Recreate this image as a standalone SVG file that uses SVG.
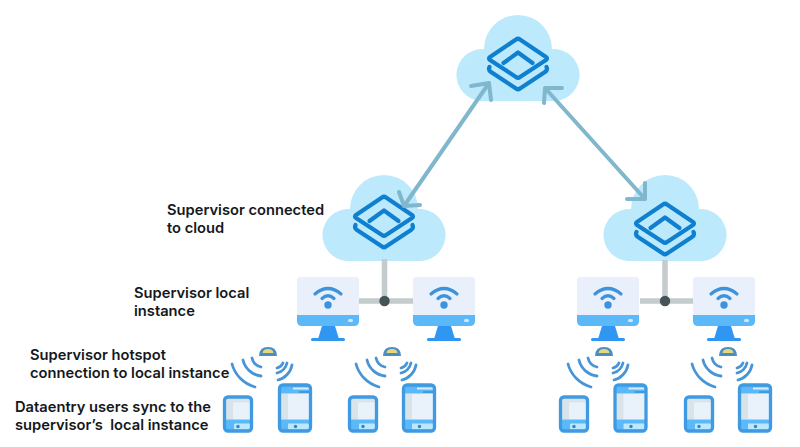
<svg xmlns="http://www.w3.org/2000/svg" width="800" height="447" viewBox="0 0 800 447">
<style>
.lb{font-family:"Inter","Liberation Sans",sans-serif;font-weight:600;font-size:14.7px;fill:#14181c;white-space:pre}
.st{fill:none;stroke:#0f80cf;stroke-width:4.200;stroke-linecap:round;stroke-linejoin:round}
.wf{fill:none;stroke:#3d93db;stroke-width:3.200;stroke-linecap:round}
.ar{fill:none;stroke:#80b7cd;stroke-width:4;stroke-linecap:round;stroke-linejoin:round}
.ln{fill:none;stroke:#c4cbcc;stroke-width:5.500}
.ho{fill:none;stroke:#4795d6;stroke-width:2.800;stroke-linecap:round}
.pb{fill:none;stroke:#3f9ae2;stroke-width:3.300}
</style>
<defs>
<path id="cloudShape" d="M-37 87A26 26 0 1 1-34 35A34 34 0 1 1 34 35A26 26 0 1 1 37 87Z" fill="#bde9fd"/>
<g id="layers">
<path class="st" d="M-2 2.500Q0 1 2 2.500L28 20Q30 21.500 28 23L2 40Q0 41.500-2 40L-28 23Q-30 21.500-28 20Z"/>
<path class="st" d="M-14.500 26L0 15.500L14.500 26"/>
<path class="st" d="M-28.500 30Q-30 33-27 35L-2 51.500Q0 53 2 51.500L27 35Q30 33 28.500 30"/>
</g>
<g id="monitor">
<path d="M-31 2Q-31-1-28-1H28Q31-1 31 2V38H-31Z" fill="#e9f0fb"/>
<path d="M-31 37H31V43Q31 48 26 48H-26Q-31 48-31 43Z" fill="#5cb9f9"/>
<path d="M-6 48H7L11 61H-10Z" fill="#2f97f2"/>
<rect x="-17" y="60" width="34" height="3" rx="1.500" fill="#2f97f2"/>
<rect x="20" y="41" width="5" height="3" rx="1.500" fill="#cfe9fb"/>
<circle cx="0" cy="27" r="3.700" fill="#3d93db"/>
<path class="wf" d="M-13 16Q0 5 13 16"/>
<path class="wf" d="M-6 20.500Q0 15 6 20.500"/>
</g>
<g id="phoneS">
<rect x="1.500" y="1.500" width="27" height="34" rx="3.500" fill="#e9f2fb"/>
<path d="M2 2H28V7H10V24H2Z" fill="#d9e3ea"/>
<path d="M1.500 24H28.500V32Q28.500 35.500 25 35.500H5Q1.500 35.500 1.500 32Z" fill="#5cb9f9"/>
<rect x="11" y="28" width="16" height="6" rx="1" fill="#bce8fd"/>
<circle cx="15" cy="31" r="1.700" fill="#2d86c9"/>
<rect class="pb" x="1.500" y="1.500" width="27" height="34" rx="3.500"/>
</g>
<g id="phoneL">
<rect x="1.500" y="1.500" width="31" height="46" rx="3.500" fill="#e9f2fb"/>
<rect x="2" y="10" width="8" height="26" fill="#d9e3ea"/>
<path d="M1.500 5Q1.500 1.500 5 1.500H29Q32.500 1.500 32.500 5V10H1.500Z" fill="#5cb9f9"/>
<path d="M15 5H31" stroke="#d5ecfb" stroke-width="2"/>
<path d="M21 8.500H32" stroke="#3f9ae2" stroke-width="2"/>
<path d="M1.500 36H32.500V44Q32.500 47.500 29 47.500H5Q1.500 47.500 1.500 44Z" fill="#5cb9f9"/>
<rect x="10" y="40" width="21" height="6" rx="1" fill="#bce8fd"/>
<circle cx="17.500" cy="43" r="1.700" fill="#2d86c9"/>
<rect class="pb" x="1.500" y="1.500" width="31" height="46" rx="3.500"/>
</g>
<g id="hotspot">
<path d="M-9 9Q-9 0 0 0Q9 0 9 9Z" fill="#4a8fc4"/>
<path d="M-5.500 6Q-5 2 0 2Q5 2 5.500 6Z" fill="#e6d77e"/>
<path class="ho" d="M-16 11A12 12 0 0 0-7 20"/>
<path class="ho" d="M-25 13A21 21 0 0 0-7 29"/>
<path class="ho" d="M-36 17A33 33 0 0 0-13 40"/>
<path class="ho" d="M15 16A9 9 0 0 1 9 21"/>
<path class="ho" d="M19 16A13.500 13.500 0 0 1 9 26"/>
<path class="ho" d="M24 18A19 19 0 0 1 10 33"/>
</g>
</defs>
<rect width="800" height="447" fill="#fff"/>
<g id="cloud-top"><use href="#cloudShape" x="518" y="14"/><use href="#layers" x="518" y="37"/></g>
<g id="cloud-left"><use href="#cloudShape" x="384" y="174"/><use href="#layers" x="384" y="195"/></g>
<g id="cloud-right"><use href="#cloudShape" x="665" y="174"/><use href="#layers" x="665" y="202"/></g>
<g id="connectors">
<path class="ar" d="M404 206L489 83M471 86L489 83L491 100M399 192L404 206L420 205"/>
<path class="ar" d="M545 88L645 199M562 88L545 88L544 103M645 183L645 199L627 199"/>
<path class="ln" d="M384.500 259V301M359 301H413"/>
<path class="ln" d="M665 260V301M640 301H693"/>
<circle cx="384.500" cy="301" r="5.200" fill="#445458"/>
<circle cx="665" cy="301" r="5.200" fill="#445458"/>
</g>
<g id="monitor-1"><use href="#monitor" x="328" y="278"/></g>
<g id="monitor-2"><use href="#monitor" x="444" y="278"/></g>
<g id="monitor-3"><use href="#monitor" x="608" y="278"/></g>
<g id="monitor-4"><use href="#monitor" x="724" y="278"/></g>
<g id="hotspot-1"><use href="#hotspot" x="268" y="347"/></g>
<g id="hotspot-2"><use href="#hotspot" x="392" y="347"/></g>
<g id="hotspot-3"><use href="#hotspot" x="604" y="347"/></g>
<g id="hotspot-4"><use href="#hotspot" x="728" y="347"/></g>
<g id="phone-1"><use href="#phoneS" x="223" y="395.500"/></g>
<g id="phone-2"><use href="#phoneL" x="278" y="383.500"/></g>
<g id="phone-3"><use href="#phoneS" x="348" y="395.500"/></g>
<g id="phone-4"><use href="#phoneL" x="402" y="383.500"/></g>
<g id="phone-5"><use href="#phoneS" x="559" y="395.500"/></g>
<g id="phone-6"><use href="#phoneL" x="613.500" y="383.500"/></g>
<g id="phone-7"><use href="#phoneS" x="684" y="395.500"/></g>
<g id="phone-8"><use href="#phoneL" x="738" y="383.500"/></g>
<g id="labels">
<text class="lb" x="167" y="215">Supervisor connected</text>
<text class="lb" x="167" y="233">to cloud</text>
<text class="lb" x="134" y="298">Supervisor local</text>
<text class="lb" x="134" y="316">instance</text>
<text class="lb" x="30" y="360">Supervisor hotspot</text>
<text class="lb" x="30" y="378">connection to local instance</text>
<text class="lb" x="15" y="412">Dataentry users sync to the</text>
<text class="lb" x="15" y="430">supervisor’s  local instance</text>
</g>
</svg>
